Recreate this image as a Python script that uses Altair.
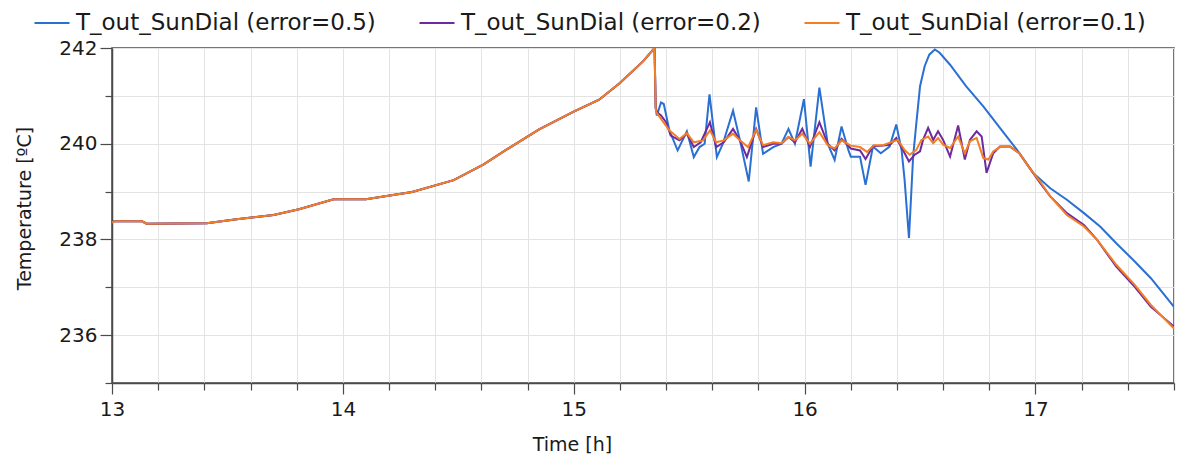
import altair as alt
import pandas as pd

# ---- data ----
series_names = [
    "T_out_SunDial (error=0.5)",
    "T_out_SunDial (error=0.2)",
    "T_out_SunDial (error=0.1)",
]
series_colors = ["#2a70d2", "#6c2b9e", "#f47e24"]

# shared part (all three runs coincide up to the peak)
common_t = [13.00, 13.01, 13.13, 13.15, 13.41, 13.54, 13.70, 13.81, 13.96, 14.10,
            14.30, 14.48, 14.61, 14.71, 14.85, 15.00, 15.11, 15.20, 15.30, 15.35, 15.355]
common_T = [238.35, 238.38, 238.38, 238.33, 238.34, 238.42, 238.51, 238.63, 238.84, 238.84,
            238.99, 239.24, 239.57, 239.88, 240.30, 240.67, 240.92, 241.27, 241.72, 242.00, 240.75]

blue_t = [15.36, 15.378, 15.39, 15.414, 15.45, 15.49, 15.52, 15.545, 15.567, 15.588,
          15.62, 15.646, 15.69, 15.72, 15.758, 15.79, 15.82, 15.864, 15.90, 15.93,
          15.958, 15.997, 16.026, 16.064, 16.10, 16.13, 16.16, 16.19, 16.20, 16.24,
          16.264, 16.296, 16.33, 16.368, 16.397, 16.42, 16.433, 16.452, 16.47, 16.484,
          16.50, 16.52, 16.54, 16.564, 16.585, 16.63, 16.70, 16.774, 16.846, 16.92,
          16.99, 17.064, 17.136, 17.21, 17.28, 17.35, 17.43, 17.50, 17.60]
blue_T = [240.59, 240.86, 240.83, 240.28, 239.86, 240.26, 239.72, 239.93, 240.00, 241.03,
          239.72, 240.00, 240.69, 240.07, 239.21, 240.76, 239.79, 239.93, 240.00, 240.31,
          240.00, 240.93, 239.52, 241.17, 240.00, 239.66, 240.36, 239.86, 239.73, 239.73,
          239.14, 239.94, 239.80, 239.94, 240.40, 239.87, 239.25, 238.03, 239.73, 240.43,
          241.20, 241.62, 241.86, 241.97, 241.90, 241.65, 241.20, 240.78, 240.33, 239.87,
          239.39, 239.07, 238.83, 238.55, 238.27, 237.92, 237.54, 237.19, 236.59]

purple_t = [15.36, 15.378, 15.40, 15.42, 15.458, 15.49, 15.52, 15.55, 15.59, 15.617,
            15.65, 15.69, 15.72, 15.75, 15.79, 15.82, 15.864, 15.90, 15.93, 15.958,
            15.99, 16.023, 16.064, 16.10, 16.13, 16.16, 16.20, 16.24, 16.264, 16.296,
            16.33, 16.37, 16.397, 16.426, 16.452, 16.477, 16.50, 16.513, 16.535, 16.557,
            16.578, 16.60, 16.63, 16.665, 16.694, 16.716, 16.745, 16.767, 16.788, 16.817,
            16.846, 16.89, 16.93, 16.975, 17.02, 17.064, 17.136, 17.21, 17.267, 17.35,
            17.43, 17.50, 17.60]
purple_T = [240.66, 240.59, 240.45, 240.17, 240.07, 240.21, 239.93, 240.03, 240.45, 239.93,
            240.03, 240.31, 240.07, 239.72, 240.31, 239.93, 240.00, 240.00, 240.14, 240.03,
            240.31, 239.93, 240.45, 240.00, 239.86, 240.10, 239.90, 239.86, 239.68, 239.95,
            239.96, 239.98, 240.12, 239.87, 239.63, 239.77, 239.84, 240.08, 240.33, 240.08,
            240.26, 240.08, 239.73, 240.38, 239.67, 240.08, 240.26, 240.15, 239.39, 239.80,
            239.94, 239.94, 239.80, 239.49, 239.18, 238.90, 238.55, 238.30, 237.99, 237.43,
            237.01, 236.59, 236.18]

orange_t = [15.357, 15.378, 15.414, 15.458, 15.49, 15.52, 15.56, 15.59, 15.617, 15.65,
            15.69, 15.72, 15.755, 15.79, 15.82, 15.864, 15.90, 15.93, 15.958, 15.99,
            16.023, 16.064, 16.10, 16.13, 16.16, 16.20, 16.24, 16.27, 16.30, 16.34,
            16.38, 16.404, 16.433, 16.455, 16.484, 16.506, 16.535, 16.557, 16.578, 16.60,
            16.63, 16.665, 16.694, 16.716, 16.745, 16.774, 16.796, 16.817, 16.846, 16.89,
            16.93, 16.975, 17.02, 17.064, 17.136, 17.21, 17.267, 17.35, 17.43, 17.50,
            17.60]
orange_T = [240.66, 240.52, 240.28, 240.10, 240.22, 240.03, 240.07, 240.28, 240.03, 240.07,
            240.21, 240.07, 239.93, 240.29, 239.97, 240.03, 240.01, 240.14, 240.07, 240.21,
            240.00, 240.24, 239.97, 239.90, 240.07, 239.96, 239.93, 239.83, 239.97, 239.97,
            240.04, 240.08, 239.87, 239.77, 239.87, 240.08, 240.15, 240.01, 240.12, 239.98,
            239.91, 240.15, 239.80, 240.05, 240.12, 239.70, 239.67, 239.84, 239.93, 239.94,
            239.80, 239.49, 239.21, 238.90, 238.51, 238.27, 237.99, 237.47, 237.05, 236.63,
            236.14]

x_ticks = [13.0, 13.2, 13.4, 13.6, 13.8, 14.0, 14.2, 14.4, 14.6, 14.8, 15.0, 15.2, 15.4,
           15.6, 15.8, 16.0, 16.2, 16.4, 16.6, 16.8, 17.0, 17.2, 17.4, 17.6]
y_ticks = [235, 236, 237, 238, 239, 240, 241, 242]
x_domain = [13.0, 17.6]
y_domain = [235, 242]

# ---- table ----
rows = []
for name, tt, TT in zip(series_names,
                        [blue_t, purple_t, orange_t],
                        [blue_T, purple_T, orange_T]):
    for t, T in zip(common_t + tt, common_T + TT):
        rows.append({"series": name, "time": t, "temp": T})
df = pd.DataFrame(rows)

FONT = "DejaVu Sans"
INK = "#1a1a1a"
FRAME = "#4a4a4a"

x_major = "abs(datum.value - round(datum.value)) < 0.01"
y_major = "datum.value % 2 === 0"

x_axis = alt.Axis(
    values=x_ticks,
    title="Time [h]",
    labelExpr=x_major + " ? format(datum.value, '.0f') : ''",
    tickSize={"condition": {"test": x_major, "value": 11}, "value": 7},
    labelFont=FONT, labelFontSize=20, labelColor=INK, labelPadding=5,
    labelFlush=False, labelOverlap=False,
    titleFont=FONT, titleFontSize=19, titleFontWeight="normal", titleColor=INK,
    titleX=460, titleY=61, titleAlign="center", titleBaseline="middle",
    grid=True, gridColor="#e3e3e3", gridWidth=1,
    domainColor=FRAME, domainWidth=1.5, tickColor=FRAME, tickWidth=1.2,
)
y_axis = alt.Axis(
    values=y_ticks,
    title="Temperature [ºC]",
    labelExpr=y_major + " ? format(datum.value, 'd') : ''",
    tickSize={"condition": {"test": y_major, "value": 12}, "value": 7},
    labelFont=FONT, labelFontSize=20, labelColor=INK, labelPadding=3,
    labelOverlap=False,
    titleFont=FONT, titleFontSize=19, titleFontWeight="normal", titleColor=INK,
    titleX=-88, titleY=160, titleAlign="center", titleBaseline="middle",
    grid=True, gridColor="#e3e3e3", gridWidth=1,
    domainColor=FRAME, domainWidth=1.5, tickColor=FRAME, tickWidth=1.2,
)

legend = alt.Legend(
    orient="none", legendX=-79, legendY=-44, direction="horizontal",
    symbolType="stroke", symbolSize=1225, symbolStrokeWidth=2.2,
    labelFont=FONT, labelFontSize=23, labelColor=INK, labelOffset=5,
    labelLimit=1000, columnPadding=39, padding=0,
)

color = alt.Color(
    "series:N",
    title=None,
    scale=alt.Scale(domain=series_names, range=series_colors),
    legend=legend,
)

layers = []
for name in series_names:
    layers.append(
        alt.Chart(df)
        .transform_filter(alt.datum.series == name)
        .mark_line(strokeWidth=2, clip=True)
        .encode(
            x=alt.X("time:Q", scale=alt.Scale(domain=x_domain, nice=False, zero=False), axis=x_axis),
            y=alt.Y("temp:Q", scale=alt.Scale(domain=y_domain, nice=False, zero=False), axis=y_axis),
            color=color,
        )
    )

chart = (
    alt.layer(*layers)
    .properties(
        width=1062, height=335,
        autosize=alt.AutoSizeParams(type="none"),
        padding={"left": 104, "top": 40, "right": 5, "bottom": 72},
        background="white",
    )
    .configure_view(stroke=FRAME, strokeWidth=1.5)
)

chart.save("out.html", embed_options={"renderer": "svg", "actions": False})
